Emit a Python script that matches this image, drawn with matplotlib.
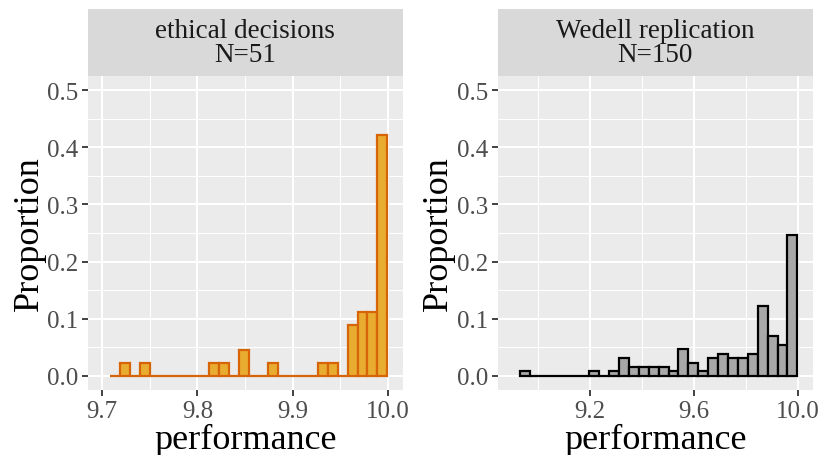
import numpy as np
import matplotlib
matplotlib.use("Agg")
import matplotlib.pyplot as plt
from matplotlib.ticker import FixedLocator

plt.rcParams['font.family'] = ['Liberation Serif', 'DejaVu Serif']

# ---- data ----
panel_titles = ["ethical decisions\nN=51", "Wedell replication\nN=150"]

left_bin_lo, left_bin_hi = 9.7084, 9.9993
left_props = [0, 1/45, 0, 1/45, 0, 0, 0, 0, 0, 0,
              1/45, 1/45, 0, 2/45, 0, 0, 1/45, 0, 0, 0,
              0, 1/45, 1/45, 0, 4/45, 5/45, 5/45, 19/45]

right_bin_lo, right_bin_hi = 8.931, 9.999
right_props = [0.0078, 0, 0, 0, 0, 0, 0, 0.0078, 0, 0.0078,
               0.031, 0.0155, 0.0155, 0.0155, 0.0155, 0.0078, 0.046, 0.023,
               0.0078, 0.031, 0.0385, 0.031, 0.031, 0.0385, 0.123, 0.0695,
               0.054, 0.246]

left_xticks = [9.7, 9.8, 9.9, 10.0]
left_xminor = [9.75, 9.85, 9.95]
right_xticks = [9.2, 9.6, 10.0]
right_xminor = [9.0, 9.4, 9.8]
yticks = [0.0, 0.1, 0.2, 0.3, 0.4, 0.5]
yminor = [0.05, 0.15, 0.25, 0.35, 0.45]

W, H = 822, 456
fig = plt.figure(figsize=(W / 100, H / 100), dpi=100)

panels = [
    dict(x0=88, x1=402.7, lo=left_bin_lo, hi=left_bin_hi, props=left_props,
         fill='#E8AD30', edge='#D8640A', xlim=(9.6853, 10.0155),
         xt=left_xticks, xm=left_xminor),
    dict(x0=497.7, x1=812.7, lo=right_bin_lo, hi=right_bin_hi, props=right_props,
         fill='#A8A8A8', edge='#000000', xlim=(8.8455, 10.058),
         xt=right_xticks, xm=right_xminor),
]

ax_top, ax_bot = 77, 391
strip_top = 10

for i, p in enumerate(panels):
    ax = fig.add_axes([p['x0'] / W, 1 - ax_bot / H, (p['x1'] - p['x0']) / W,
                       (ax_bot - ax_top) / H])
    ax.set_facecolor('#EBEBEB')
    for s in ax.spines.values():
        s.set_visible(False)
    n = len(p['props'])
    edges = np.linspace(p['lo'], p['hi'], n + 1)
    ax.bar(edges[:-1], p['props'], width=np.diff(edges), align='edge',
           color=p['fill'], edgecolor=p['edge'], linewidth=1.6, zorder=3)
    ax.set_xlim(*p['xlim'])
    ax.set_ylim(-0.025, 0.525)
    ax.xaxis.set_major_locator(FixedLocator(p['xt']))
    ax.xaxis.set_minor_locator(FixedLocator(p['xm']))
    ax.yaxis.set_major_locator(FixedLocator(yticks))
    ax.yaxis.set_minor_locator(FixedLocator(yminor))
    ax.set_xticklabels([f"{v:.1f}" for v in p['xt']])
    ax.set_yticklabels([f"{v:.1f}" for v in yticks])
    ax.grid(which='major', color='white', linewidth=1.5, zorder=0)
    ax.grid(which='minor', color='white', linewidth=0.75, zorder=0)
    ax.set_axisbelow(True)
    ax.tick_params(which='major', length=4, width=1.3, color='#333333',
                   labelsize=18, labelcolor='#4D4D4D', pad=3)
    ax.tick_params(which='minor', length=0)
    ax.set_xlabel('performance', fontsize=26, labelpad=1)
    ax.set_ylabel('Proportion', fontsize=26, labelpad=1)

    sax = fig.add_axes([p['x0'] / W, 1 - ax_top / H, (p['x1'] - p['x0']) / W,
                        (ax_top - strip_top) / H])
    sax.set_facecolor('#D9D9D9')
    sax.set_xticks([]); sax.set_yticks([])
    for s in sax.spines.values():
        s.set_visible(False)
    sax.text(0.5, 0.5, panel_titles[i], ha='center', va='center',
             fontsize=19.5, color='#1A1A1A', linespacing=0.95,
             transform=sax.transAxes)

fig.savefig('out.png', dpi=100)
